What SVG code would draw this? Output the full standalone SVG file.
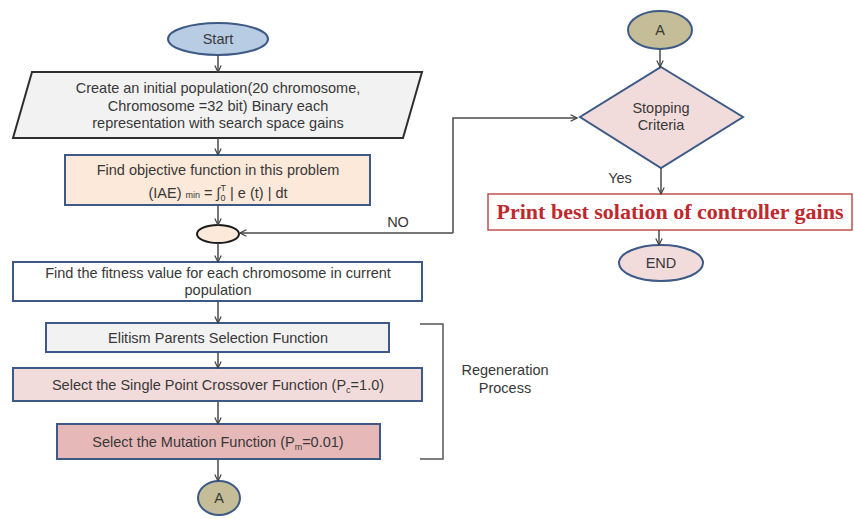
<svg xmlns="http://www.w3.org/2000/svg" width="854" height="519" viewBox="0 0 854 519">
<defs>
<marker id="arr" viewBox="0 0 10 10" refX="9" refY="5" markerWidth="8" markerHeight="8" orient="auto" markerUnits="userSpaceOnUse">
<path d="M1,1 L9,5 L1,9" fill="none" stroke="#404040" stroke-width="1.5"/>
</marker>
</defs>
<style>
.t{font-family:"Liberation Sans",Arial,sans-serif;font-size:14.5px;fill:#383838;text-anchor:middle}
.b{stroke:#3d5a87;stroke-width:2}
.c{fill:none;stroke:#4a4a4a;stroke-width:1.5}
</style>
<rect width="854" height="519" fill="#ffffff"/>

<g id="start">
<ellipse cx="218" cy="39" rx="50" ry="16" fill="#b8cce4" class="b"/>
<text class="t" x="218" y="44" font-size="15">Start</text>
</g>

<g id="init">
<polygon points="32,72 422,72 403,138 13,138" fill="#f2f2f2" stroke="#2e2e2e" stroke-width="2"/>
<text class="t" x="218" y="93" font-size="15">Create an initial population(20 chromosome,</text>
<text class="t" x="218" y="111" font-size="15">Chromosome =32 bit) Binary  each</text>
<text class="t" x="218" y="128" font-size="15">representation with search space gains</text>
</g>

<g id="objective">
<rect x="65" y="155" width="305" height="50" fill="#fde9d9" class="b"/>
<text class="t" x="218" y="175">Find objective function in this problem</text>
<text class="t" x="218" y="198">(IAE) <tspan font-size="9">min</tspan> = ∫<tspan font-size="9" dy="3">0</tspan><tspan font-size="9" dx="-5" dy="-10">T</tspan><tspan dy="7">  | e (t) | dt</tspan></text>
</g>

<g id="junction">
<ellipse cx="218" cy="234" rx="21" ry="9" fill="#fde9d9" stroke="#1a1a1a" stroke-width="2"/>
</g>

<g id="fitness">
<rect x="13" y="262" width="409" height="39" fill="#ffffff" class="b"/>
<text class="t" x="218" y="278">Find the fitness value for each chromosome in current</text>
<text class="t" x="218" y="295">population</text>
</g>

<g id="elitism">
<rect x="46" y="323" width="343" height="29" fill="#f2f2f2" class="b"/>
<text class="t" x="218" y="343">Elitism Parents Selection Function</text>
</g>

<g id="crossover">
<rect x="13" y="368" width="409" height="33" fill="#f2dcdb" class="b"/>
<text class="t" x="218" y="390">Select the Single Point Crossover Function (P<tspan font-size="9" dy="3">c</tspan><tspan dy="-3">=1.0)</tspan></text>
</g>

<g id="mutation">
<rect x="57" y="424" width="323" height="35" fill="#e6b9b8" class="b"/>
<text class="t" x="218" y="447">Select the Mutation Function (P<tspan font-size="9" dy="3">m</tspan><tspan dy="-3">=0.01)</tspan></text>
</g>

<g id="regeneration">
<path d="M420,324 H443 V459 H420" fill="none" stroke="#555" stroke-width="1.5"/>
<text class="t" x="505" y="375">Regeneration</text>
<text class="t" x="505" y="393">Process</text>
</g>

<g id="connA1">
<ellipse cx="219" cy="498" rx="21" ry="17" fill="#c4bd97" class="b"/>
<text class="t" x="219" y="503" font-size="15">A</text>
</g>

<g id="connA2">
<ellipse cx="660" cy="30" rx="32" ry="19" fill="#c4bd97" class="b"/>
<text class="t" x="660" y="35" font-size="15">A</text>
</g>

<g id="stopping">
<polygon points="661,67 743,117 661,168 580,117" fill="#f2dcdb" class="b"/>
<text class="t" x="661" y="113" font-size="13">Stopping</text>
<text class="t" x="661" y="130" font-size="13">Criteria</text>
</g>

<g id="print">
<rect x="488" y="194" width="364" height="36" fill="#ffffff" stroke="#c0504d" stroke-width="1.5"/>
<text x="670" y="219" font-family="'Liberation Serif','Times New Roman',serif" font-weight="bold" font-size="22" fill="#c0282d" text-anchor="middle">Print best solation of controller gains</text>
</g>

<g id="end">
<ellipse cx="661" cy="263" rx="42" ry="18" fill="#f2dcdb" class="b"/>
<text class="t" x="661" y="268" font-size="15">END</text>
</g>

<g id="labels">
<text class="t" x="398" y="227" font-size="16" fill="#222">NO</text>
<text class="t" x="620" y="183" font-size="16" fill="#222">Yes</text>
</g>

<g id="connectors">
<line class="c" x1="218" y1="55" x2="218" y2="72" marker-end="url(#arr)"/>
<line class="c" x1="218" y1="138" x2="218" y2="155" marker-end="url(#arr)"/>
<line class="c" x1="218" y1="205" x2="218" y2="225" marker-end="url(#arr)"/>
<line class="c" x1="218" y1="243" x2="218" y2="262" marker-end="url(#arr)"/>
<line class="c" x1="218" y1="301" x2="218" y2="323" marker-end="url(#arr)"/>
<line class="c" x1="218" y1="352" x2="218" y2="368" marker-end="url(#arr)"/>
<line class="c" x1="218" y1="401" x2="218" y2="424" marker-end="url(#arr)"/>
<line class="c" x1="218" y1="459" x2="218" y2="481" marker-end="url(#arr)"/>
<line class="c" x1="660" y1="49" x2="660" y2="67" marker-end="url(#arr)"/>
<line class="c" x1="661" y1="168" x2="661" y2="194" marker-end="url(#arr)"/>
<line class="c" x1="659" y1="230" x2="659" y2="245" marker-end="url(#arr)"/>
<polyline class="c" points="453,233 453,118 577,118" marker-end="url(#arr)"/>
<line class="c" x1="453" y1="233" x2="240" y2="233" marker-end="url(#arr)"/>
</g>
</svg>
